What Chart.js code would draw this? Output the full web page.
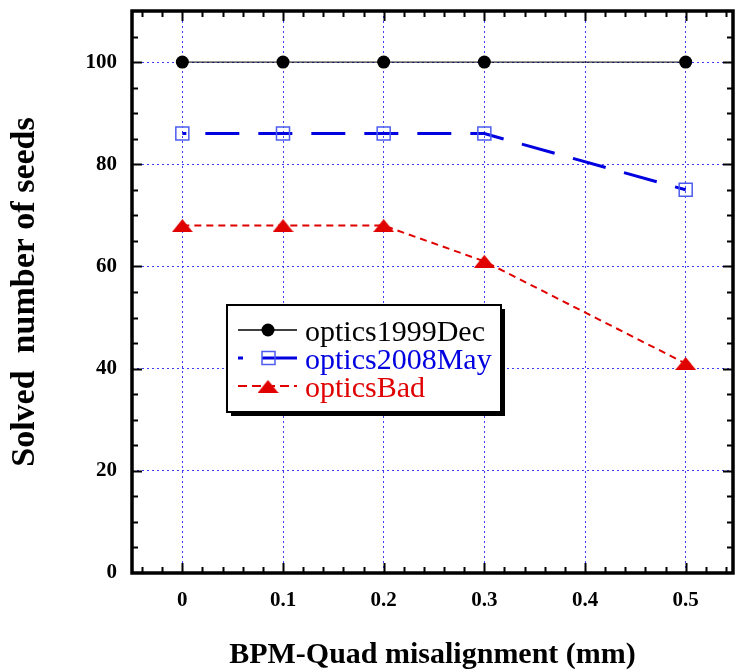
<!DOCTYPE html>
<html>
<head>
<meta charset="utf-8">
<script src="https://cdn.jsdelivr.net/npm/chart.js@4"></script>
<style>
  html, body { margin: 0; padding: 0; background: #fff; }
  #wrap { width: 736px; height: 670px; }
</style>
</head>
<body>
<div id="wrap"><canvas id="chartSeeds" width="736" height="670"></canvas></div>
<script>
// data
var misalign = [0, 0.1, 0.2, 0.3, 0.5];
var seeds1999Dec = [100, 100, 100, 100, 100];
var seeds2008May = [86, 86, 86, 86, 75];
var seedsBad = [68, 68, 68, 61, 41];
var seriesNames = ["optics1999Dec", "optics2008May", "opticsBad"];
var xTickValues = [0, 0.1, 0.2, 0.3, 0.4, 0.5];
var yTickValues = [0, 20, 40, 60, 80, 100];

var serif = "'Liberation Serif', 'Times New Roman', serif";
var blue = '#0000e0';
var red = '#e00000';

function toPoints(ys) {
    return misalign.map(function (x, i) { return {x: x, y: ys[i]}; });
}

// flat red triangle used as marker
function makeTriangle(w, h) {
    let c = document.createElement('canvas');
    c.width = w;
    c.height = h;
    let g = c.getContext('2d');
    g.fillStyle = red;
    g.beginPath();
    g.moveTo(w / 2, 0);
    g.lineTo(w, h);
    g.lineTo(0, h);
    g.closePath();
    g.fill();
    return c;
}
var triangle = makeTriangle(21, 13);

// frame, inward ticks on all four sides and the boxed legend
var framePlugin = {
    id: 'framePlugin',
    afterDatasetsDraw(chart) {
        let ctx = chart.ctx;
        let a = chart.chartArea;
        let xs = chart.scales.x, ys = chart.scales.y;
        ctx.save();
        ctx.strokeStyle = '#000';
        ctx.lineWidth = 2;
        // x ticks
        for (let v = -0.04; v < 0.545; v += 0.02) {
            let px = Math.round(xs.getPixelForValue(v)) + 0.5;
            let major = xTickValues.some(t => Math.abs(t - v) < 1e-6);
            let len = major ? 10 : 6;
            ctx.beginPath();
            ctx.moveTo(px, a.bottom); ctx.lineTo(px, a.bottom - len);
            ctx.moveTo(px, a.top); ctx.lineTo(px, a.top + len);
            ctx.stroke();
        }
        // y ticks
        for (let v = 5; v < 110; v += 5) {
            let py = Math.round(ys.getPixelForValue(v)) + 0.5;
            let major = yTickValues.indexOf(v) >= 0;
            let len = major ? 10 : 6;
            ctx.beginPath();
            ctx.moveTo(a.left, py); ctx.lineTo(a.left + len, py);
            ctx.moveTo(a.right, py); ctx.lineTo(a.right - len, py);
            ctx.stroke();
        }
        ctx.lineWidth = 3.5;
        ctx.strokeRect(a.left, a.top, a.right - a.left, a.bottom - a.top);

        // legend
        let bx = 227, by = 305, bw = 274, bh = 107;
        ctx.fillStyle = '#000';
        ctx.fillRect(bx + 4, by + 4, bw, bh);
        ctx.fillStyle = '#fff';
        ctx.fillRect(bx, by, bw, bh);
        ctx.lineWidth = 2;
        ctx.strokeRect(bx, by, bw, bh);

        let rows = [330, 358, 386];
        let colors = ['#000', blue, red];
        ctx.font = '30px ' + serif;
        ctx.textBaseline = 'alphabetic';
        ctx.textAlign = 'left';

        // row 1
        ctx.strokeStyle = '#000';
        ctx.lineWidth = 1.5;
        ctx.beginPath(); ctx.moveTo(238, rows[0]); ctx.lineTo(297, rows[0]); ctx.stroke();
        ctx.fillStyle = '#000';
        ctx.beginPath(); ctx.arc(268, rows[0], 6.5, 0, Math.PI * 2); ctx.fill();

        // row 2
        ctx.strokeStyle = blue;
        ctx.lineWidth = 3;
        ctx.beginPath();
        ctx.moveTo(238, rows[1]); ctx.lineTo(243, rows[1]);
        ctx.moveTo(262, rows[1]); ctx.lineTo(297, rows[1]);
        ctx.stroke();
        ctx.strokeStyle = '#4c5cf0';
        ctx.lineWidth = 1.5;
        ctx.strokeRect(262, rows[1] - 6.5, 13, 13);

        // row 3
        ctx.strokeStyle = red;
        ctx.lineWidth = 2;
        ctx.setLineDash([9, 5]);
        ctx.beginPath(); ctx.moveTo(238, rows[2]); ctx.lineTo(297, rows[2]); ctx.stroke();
        ctx.setLineDash([]);
        ctx.drawImage(triangle, 268 - 10.5, rows[2] - 6);

        for (let i = 0; i < 3; i++) {
            ctx.fillStyle = colors[i];
            ctx.fillText(seriesNames[i], 305, rows[i] + 11);
        }
        ctx.restore();
    }
};

var myChart = new Chart(document.getElementById('chartSeeds').getContext('2d'), {
    type: 'line',
    data: {
        datasets: [{
            label: seriesNames[0],
            data: toPoints(seeds1999Dec),
            borderColor: '#000',
            borderWidth: 1,
            pointStyle: 'circle',
            pointRadius: 6.5,
            pointBackgroundColor: '#000',
            pointBorderWidth: 0,
            tension: 0
        }, {
            label: seriesNames[1],
            data: toPoints(seeds2008May),
            borderColor: blue,
            borderWidth: 3,
            borderDash: [34, 19],
            borderDashOffset: 30,
            pointStyle: 'rect',
            pointRadius: 9.2,
            pointBackgroundColor: 'rgba(0,0,0,0)',
            pointBorderColor: '#4c5cf0',
            pointBorderWidth: 1.5,
            tension: 0
        }, {
            label: seriesNames[2],
            data: toPoints(seedsBad),
            borderColor: red,
            borderWidth: 2,
            borderDash: [7, 5],
            pointStyle: triangle,
            tension: 0
        }]
    },
    options: {
        responsive: false,
        animation: false,
        events: [],
        layout: {autoPadding: false, padding: {top: 11, right: 3, left: 0, bottom: 0}},
        plugins: {legend: {display: false}, tooltip: {enabled: false}},
        scales: {
            x: {
                type: 'linear',
                min: -0.05,
                max: 0.547,
                afterBuildTicks: s => { s.ticks = xTickValues.map(v => ({value: v})); },
                afterFit: s => { s.height = 97; s.paddingLeft = 0; s.paddingRight = 0; },
                grid: {color: 'rgba(40,40,245,0.9)', lineWidth: 1, drawTicks: false},
                border: {display: false, dash: [2, 3]},
                ticks: {
                    padding: 15,
                    color: '#000',
                    font: {family: serif, size: 21, weight: 'bold'},
                    callback: v => String(v)
                },
                title: {
                    display: true,
                    text: 'BPM-Quad misalignment (mm)',
                    color: '#000',
                    font: {family: serif, size: 30, weight: 'bold', lineHeight: 1},
                    padding: {top: 0, bottom: 0}
                }
            },
            y: {
                min: 0,
                max: 110,
                afterBuildTicks: s => { s.ticks = yTickValues.map(v => ({value: v})); },
                afterFit: s => { s.width = 132; s.paddingTop = 0; s.paddingBottom = 0; },
                grid: {color: 'rgba(40,40,245,0.9)', lineWidth: 1, drawTicks: false},
                border: {display: false, dash: [2, 3]},
                ticks: {
                    padding: 15,
                    color: '#000',
                    font: {family: serif, size: 21, weight: 'bold'}
                },
                title: {
                    display: true,
                    text: 'Solved  number of seeds',
                    color: '#000',
                    font: {family: serif, size: 34, weight: 'bold', lineHeight: 1},
                    padding: {top: 8, bottom: 0}
                }
            }
        }
    },
    plugins: [framePlugin]
});
</script>
</body>
</html>
